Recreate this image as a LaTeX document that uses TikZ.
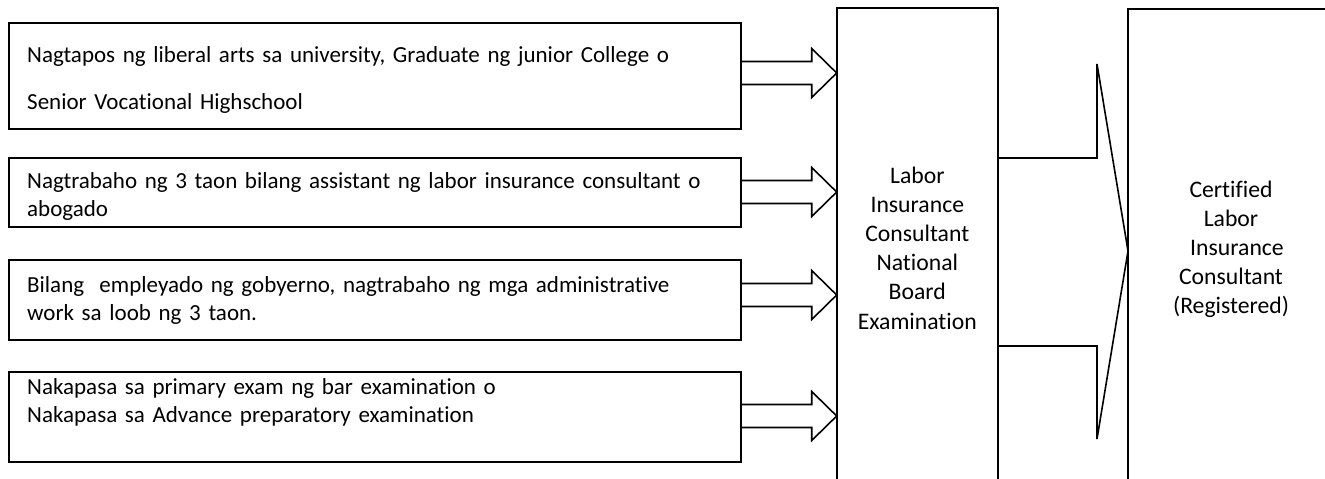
\documentclass[tikz,border=0pt]{standalone}
\usepackage{fontspec}
\setmainfont{Carlito}[Ligatures=CommonOff]
\usetikzlibrary{calc}
\tikzset{
  boxline/.style={draw=black, line width=1.6pt, inner sep=0pt, outer sep=0pt},
  arrowline/.style={draw=black, line width=1.6pt, line join=miter},
  lefttext/.style={anchor=base west, inner sep=0pt, text width=715pt, align=left,
    font=\fontsize{23}{28.5}\selectfont},
  midtext/.style={anchor=base, inner sep=0pt, align=center,
    font=\fontsize{23.7}{29.2}\selectfont}
}
\begin{document}
\begin{tikzpicture}[x=1pt,y=-1pt]
\useasboundingbox (0,0) rectangle (1325,479);
\clip (0,0) rectangle (1325,479);
\fill[white] (0,0) rectangle (1325,479);
% left boxes
\node[boxline, minimum width=732pt, minimum height=106pt, anchor=north west] (b1) at (9,23) {};
\node[boxline, minimum width=732pt, minimum height=69pt, anchor=north west] (b2) at (9,158) {};
\node[boxline, minimum width=732pt, minimum height=80pt, anchor=north west] (b3) at (9,260) {};
\node[boxline, minimum width=732pt, minimum height=90pt, anchor=north west] (b4) at (9,372) {};
% texts
\node[lefttext] (t1) at (27,62) {Nagtapos ng liberal arts sa university, Graduate ng junior College o\\[18.5pt]Senior Vocational Highschool};
\node[lefttext] (t2) at (27,188) {\makebox[702pt][s]{Nagtrabaho ng 3 taon bilang assistant ng labor insurance consultant o}\\abogado};
\node[lefttext] (t3) at (27,292) {\makebox[695pt][s]{Bilang\ \ empleyado ng gobyerno, nagtrabaho ng mga administrative}\\work sa loob ng 3 taon.};
\node[lefttext] (t4) at (27,394) {Nakapasa sa primary exam ng bar examination o\\Nakapasa sa Advance preparatory examination};
% center box and right box
\node[boxline, minimum width=161.3pt, minimum height=520pt, anchor=north west] (cbox) at (836.7,8) {};
\node[midtext, text width=160pt] (ctext) at (917.3,183) {Labor\\Insurance\\Consultant\\National\\Board\\Examination};
\node[boxline, minimum width=210pt, minimum height=520pt, anchor=north west] (rbox) at (1128,9) {};
\node[midtext, text width=200pt] (rtext) at (1231,197) {Certified\\Labor\\\hspace*{12pt}Insurance\\Consultant\\(Registered)};
% block arrows
\foreach \b/\y in {b1/73, b2/192, b3/295, b4/416}{
  \coordinate (s) at (\b.east |- 0,\y);
  \coordinate (e) at (cbox.west |- 0,\y);
  \draw[arrowline] ($(s)+(0,-11.5)$) -- ($(e)+(-25,-11.5)$) -- ($(e)+(-25,-24.5)$) -- (e)
     -- ($(e)+(-25,24.5)$) -- ($(e)+(-25,11.5)$) -- ($(s)+(0,11.5)$);
}
% big bracket arrow
\coordinate (tip) at (rbox.west |- 0,251);
\draw[arrowline] (cbox.east |- 0,158) -- (1097,158) -- (1097,64) -- (tip)
   -- (1097,439) -- (1097,346) -- (cbox.east |- 0,346);
\end{tikzpicture}
\end{document}
